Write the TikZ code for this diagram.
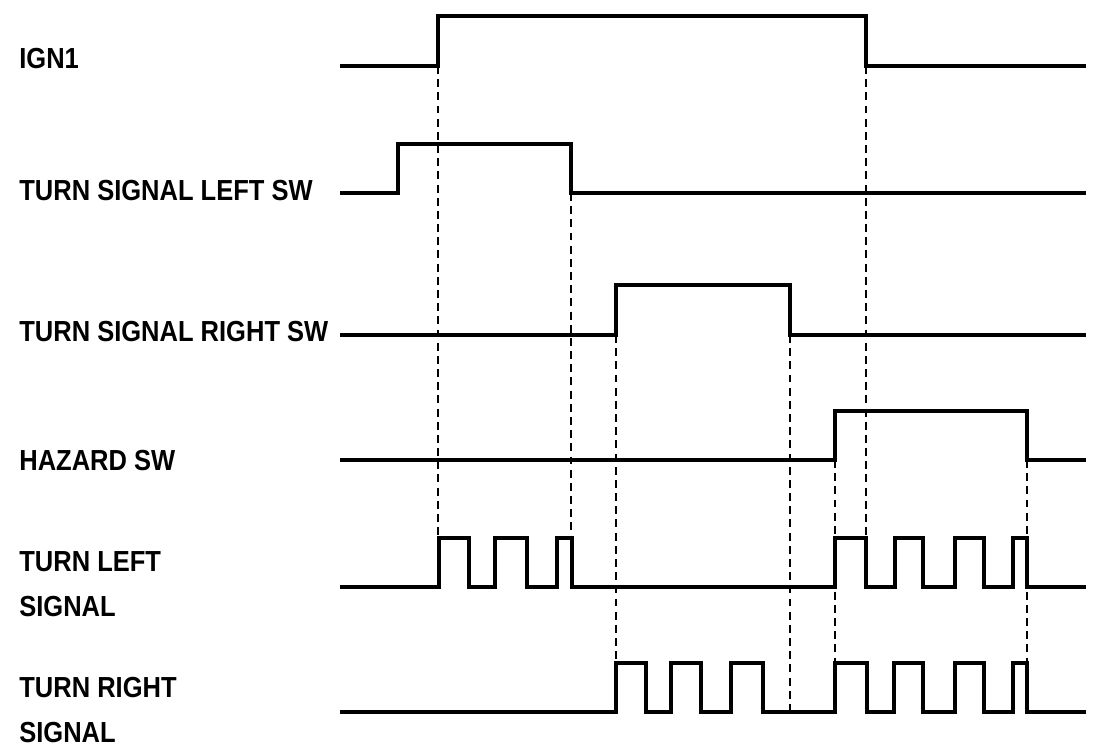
\documentclass[tikz,border=0pt]{standalone}
\usepackage{fontspec}
\newfontfamily\lblfont[FakeStretch=0.88]{Liberation Sans}
\usetikzlibrary{positioning}
\tikzset{
    sig/.style={line width=2pt, line join=miter},
    guide/.style={line width=0.6pt, dash pattern=on 4.5pt off 3pt},
    lbl/.style={anchor=base west, inner sep=0pt, font=\lblfont\bfseries\fontsize{16.5}{25.5}\selectfont, align=left}
}

\begin{document}
\begin{tikzpicture}[x=0.02cm, y=-0.02cm]
\useasboundingbox (0,0) rectangle (1120,754);

% labels
\node[lbl] (ign) at (19,68) {IGN1};
\node[lbl] (lsw) at (19,200) {TURN SIGNAL LEFT SW};
\node[lbl] (rsw) at (19,341) {TURN SIGNAL RIGHT SW};
\node[lbl] (haz) at (19,470) {HAZARD SW};
\node[lbl] (lsig) at (19,616) {TURN LEFT\\SIGNAL};
\node[lbl] (rsig) at (19,742) {TURN RIGHT\\SIGNAL};

% guide lines
\draw[guide] (438,66) -- (438,538);
\draw[guide] (571,193) -- (571,538);
\draw[guide] (866,66) -- (866,538);
\draw[guide] (616,335) -- (616,663);
\draw[guide] (790,335) -- (790,712);
\draw[guide] (835,460) -- (835,663);
\draw[guide] (1027,460) -- (1027,663);

% switch inputs
\draw[sig] (340,66) -- (438,66) -- (438,16) -- (866,16) -- (866,66) -- (1086,66);
\draw[sig] (340,193) -- (398,193) -- (398,144) -- (571,144) -- (571,193) -- (1086,193);
\draw[sig] (340,335) -- (616,335) -- (616,285) -- (790,285) -- (790,335) -- (1086,335);
\draw[sig] (340,460) -- (835,460) -- (835,411) -- (1027,411) -- (1027,460) -- (1086,460);

% lamp outputs
\draw[sig] (340,587)
  foreach \a/\b in {439/469, 495/527, 557/572, 835/866, 895/923, 955/984, 1013/1027}
  { -- (\a,587) -- (\a,538) -- (\b,538) -- (\b,587) } -- (1086,587);
\draw[sig] (340,712)
  foreach \a/\b in {616/646, 671/701, 731/763, 835/867, 894/923, 955/984, 1013/1027}
  { -- (\a,712) -- (\a,663) -- (\b,663) -- (\b,712) } -- (1086,712);
\end{tikzpicture}
\end{document}
